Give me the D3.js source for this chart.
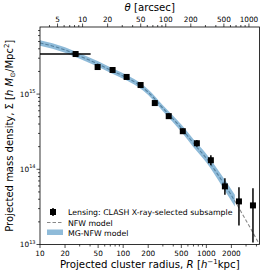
<!doctype html>
<html>
<head>
<script src="https://d3js.org/d3.v7.min.js"></script>
<style>
body { margin: 0; background: #fff; }
text { font-family: "DejaVu Sans", sans-serif; fill: #000; }
</style>
</head>
<body>
<script>
var width = 266, height = 275;

// lensing points (R in h^-1 kpc, Sigma in h Msun / Mpc^2)
var ptR     = [26.8, 49.3, 74.6, 110, 162, 240, 353, 521, 769, 1133, 1671, 2466, 3634];
var ptSigma = [3.41e15, 2.29e15, 2.09e15, 1.69e15, 1.32e15, 7.6e14, 5.09e14, 3.21e14, 2.22e14, 1.32e14, 5.93e13, 3.74e13, 3.31e13];
var ptLo    = [3.2e15, 2.15e15, 1.95e15, 1.58e15, 1.22e15, 7.0e14, 4.7e14, 2.95e14, 2.0e14, 1.13e14, 4.6e13, 1.79e13, 1.06e13];
var ptHi    = [3.6e15, 2.45e15, 2.23e15, 1.80e15, 1.42e15, 8.2e14, 5.5e14, 3.5e14, 2.45e14, 1.54e14, 7.6e13, 5.75e13, 5.6e13];
var ptRlo   = [10, null, null, null, null, null, null, null, null, null, null, null, null];
var ptRhi   = [40.6, null, null, null, null, null, null, null, null, null, null, null, null];

// NFW model curve
var nfwR     = [10, 20, 30, 50, 70, 100, 150, 200, 300, 500, 700, 1000, 1500, 2000, 3000, 4355];
var nfwSigma = [4.79e15, 3.86e15, 3.21e15, 2.51e15, 2.09e15, 1.74e15, 1.36e15, 1.06e15, 6.5e14, 3.52e14, 2.22e14, 1.40e14, 7.36e13, 4.5e13, 2.09e13, 1.0e13];

// MG-NFW band
var mgR    = [10, 20, 30, 50, 70, 100, 150, 200, 300, 500, 700, 1000, 1500, 2200];
var mgLow  = [4.4e15, 3.55e15, 2.95e15, 2.31e15, 1.92e15, 1.6e15, 1.25e15, 0.97e15, 5.9e14, 3.15e14, 1.97e14, 1.23e14, 6.3e13, 3.2e13];
var mgHigh = [5.2e15, 4.2e15, 3.49e15, 2.73e15, 2.27e15, 1.89e15, 1.48e15, 1.15e15, 7.1e14, 3.93e14, 2.5e14, 1.6e14, 8.6e13, 4.6e13];

var xTicks = [10, 20, 50, 100, 200, 500, 1000, 2000];
var thetaTicks = [5, 10, 20, 50, 100, 200, 500, 1000];
var kpcPerArcsec = 3.25;
var yTicks = [1e13, 1e14, 1e15];

var mLeft = 40, mRight = 259.5, mTop = 27, mBottom = 244.5;

var x = d3.scaleLog().domain([10, 4355]).range([mLeft, mRight]);
var y = d3.scaleLog().domain([1e13, 7.8e15]).range([mBottom, mTop]);
var xt = d3.scaleLog().domain([10 / kpcPerArcsec, 4355 / kpcPerArcsec]).range([mLeft, mRight]);

var svg = d3.select("body").append("svg")
    .attr("width", width)
    .attr("height", height);

svg.append("defs").append("clipPath").attr("id", "clip")
  .append("rect").attr("x", mLeft).attr("y", mTop)
  .attr("width", mRight - mLeft).attr("height", mBottom - mTop);

var plot = svg.append("g").attr("clip-path", "url(#clip)");

// NFW dashed
var nfwData = nfwR.map(function (r, i) { return [r, nfwSigma[i]]; });
plot.append("path")
    .datum(nfwData)
    .attr("d", d3.line().curve(d3.curveMonotoneX)
        .x(function (d) { return x(d[0]); })
        .y(function (d) { return y(d[1]); }))
    .attr("fill", "none")
    .attr("stroke", "#888")
    .attr("stroke-width", 1.1)
    .attr("stroke-dasharray", "3.5,2");

// MG-NFW band
var mgData = mgR.map(function (r, i) { return [r, mgLow[i], mgHigh[i]]; });
plot.append("path")
    .datum(mgData)
    .attr("d", d3.area().curve(d3.curveMonotoneX)
        .x(function (d) { return x(d[0]); })
        .y0(function (d) { return y(d[1]); })
        .y1(function (d) { return y(d[2]); }))
    .attr("fill", "#1f77b4")
    .attr("fill-opacity", 0.5);

// error bars + markers
var pts = ptR.map(function (r, i) {
    return {r: r, s: ptSigma[i], lo: ptLo[i], hi: ptHi[i], rlo: ptRlo[i], rhi: ptRhi[i]};
});
var pg = plot.append("g");
pg.selectAll("line.ey").data(pts).enter().append("line")
    .attr("x1", function (d) { return x(d.r); })
    .attr("x2", function (d) { return x(d.r); })
    .attr("y1", function (d) { return y(d.lo); })
    .attr("y2", function (d) { return y(d.hi); })
    .attr("stroke", "#000").attr("stroke-width", 1.5);
pg.selectAll("line.ex").data(pts.filter(function (d) { return d.rlo; })).enter().append("line")
    .attr("x1", function (d) { return x(d.rlo); })
    .attr("x2", function (d) { return x(d.rhi); })
    .attr("y1", function (d) { return y(d.s); })
    .attr("y2", function (d) { return y(d.s); })
    .attr("stroke", "#000").attr("stroke-width", 1.5);
pg.selectAll("rect").data(pts).enter().append("rect")
    .attr("x", function (d) { return x(d.r) - 3; })
    .attr("y", function (d) { return y(d.s) - 3; })
    .attr("width", 6).attr("height", 6)
    .attr("fill", "#000");

// frame
svg.append("rect")
    .attr("x", mLeft).attr("y", mTop)
    .attr("width", mRight - mLeft).attr("height", mBottom - mTop)
    .attr("fill", "none").attr("stroke", "#000").attr("stroke-width", 0.8);

function minorTicks(scale) {
    var d = scale.domain(), out = [];
    for (var e = Math.floor(Math.log10(d[0])); e <= Math.ceil(Math.log10(d[1])); e++) {
        for (var m = 1; m < 10; m++) {
            var v = m * Math.pow(10, e);
            if (v >= d[0] * 0.999 && v <= d[1] * 1.001) out.push(v);
        }
    }
    return out;
}

// bottom axis
var gx = svg.append("g");
gx.selectAll("line").data(minorTicks(x)).enter().append("line")
    .attr("x1", function (d) { return x(d); }).attr("x2", function (d) { return x(d); })
    .attr("y1", mBottom).attr("y2", function (d) { return xTicks.indexOf(d) >= 0 ? mBottom + 3.5 : mBottom + 2; })
    .attr("stroke", "#000").attr("stroke-width", 0.7);
gx.selectAll("text").data(xTicks).enter().append("text")
    .attr("x", function (d) { return x(d); })
    .attr("y", mBottom + 11)
    .attr("text-anchor", "middle")
    .attr("font-size", "7.3px")
    .text(function (d) { return d; });

// top axis (theta)
var gt = svg.append("g");
gt.selectAll("line").data(minorTicks(xt)).enter().append("line")
    .attr("x1", function (d) { return xt(d); }).attr("x2", function (d) { return xt(d); })
    .attr("y1", mTop).attr("y2", function (d) { return thetaTicks.indexOf(d) >= 0 ? mTop - 3.5 : mTop - 2; })
    .attr("stroke", "#000").attr("stroke-width", 0.7);
gt.selectAll("text").data(thetaTicks).enter().append("text")
    .attr("x", function (d) { return xt(d); })
    .attr("y", mTop - 5.5)
    .attr("text-anchor", "middle")
    .attr("font-size", "7.3px")
    .text(function (d) { return d; });

// left axis
var gy = svg.append("g");
gy.selectAll("line").data(minorTicks(y)).enter().append("line")
    .attr("y1", function (d) { return y(d); }).attr("y2", function (d) { return y(d); })
    .attr("x1", mLeft).attr("x2", function (d) { return yTicks.indexOf(d) >= 0 ? mLeft - 3.5 : mLeft - 2; })
    .attr("stroke", "#000").attr("stroke-width", 0.7);
var yl = gy.selectAll("text").data(yTicks).enter().append("text")
    .attr("x", mLeft - 4.5)
    .attr("y", function (d) { return y(d) + 2.5; })
    .attr("text-anchor", "end")
    .attr("font-size", "7.3px");
yl.append("tspan").text("10");
yl.append("tspan").attr("font-size", "5px").attr("dy", -3.5)
    .text(function (d) { return Math.round(Math.log10(d)); });

// axis labels
var xlab = svg.append("text")
    .attr("x", (mLeft + mRight) / 2).attr("y", 268)
    .attr("text-anchor", "middle").attr("font-size", "10.2px");
xlab.append("tspan").text("Projected cluster radius, ");
xlab.append("tspan").attr("font-style", "italic").text("R");
xlab.append("tspan").text(" [");
xlab.append("tspan").attr("font-style", "italic").text("h");
xlab.append("tspan").attr("font-size", "7px").attr("dy", -4).text("\u22121");
xlab.append("tspan").attr("dy", 4).text("kpc]");

var tlab = svg.append("text")
    .attr("x", (mLeft + mRight) / 2).attr("y", 11)
    .attr("text-anchor", "middle").attr("font-size", "10.2px");
tlab.append("tspan").attr("font-style", "italic").text("\u03b8");
tlab.append("tspan").text(" [arcsec]");

var ylab = svg.append("text")
    .attr("transform", "translate(13," + ((mTop + mBottom) / 2) + ") rotate(-90)")
    .attr("text-anchor", "middle").attr("font-size", "10px");
ylab.append("tspan").text("Projected mass density, \u03a3 [");
ylab.append("tspan").attr("font-style", "italic").text("h M");
ylab.append("tspan").attr("font-size", "7px").attr("dy", 2).text("\u2299");
ylab.append("tspan").attr("dy", -2).text("/Mpc");
ylab.append("tspan").attr("font-size", "7px").attr("dy", -4).text("2");
ylab.append("tspan").attr("dy", 4).text("]");

// legend
var lg = svg.append("g").attr("font-size", "7.8px");
lg.append("line").attr("x1", 53).attr("x2", 53).attr("y1", 208).attr("y2", 216)
    .attr("stroke", "#000").attr("stroke-width", 1.5);
lg.append("rect").attr("x", 50).attr("y", 209).attr("width", 6).attr("height", 6).attr("fill", "#000");
lg.append("text").attr("x", 68).attr("y", 215).text("Lensing: CLASH X-ray-selected subsample");
lg.append("line").attr("x1", 47).attr("x2", 63).attr("y1", 222.5).attr("y2", 222.5)
    .attr("stroke", "#888").attr("stroke-width", 1.1).attr("stroke-dasharray", "3.5,2");
lg.append("text").attr("x", 68).attr("y", 225.5).text("NFW model");
lg.append("rect").attr("x", 47).attr("y", 229.5).attr("width", 16).attr("height", 5.5)
    .attr("fill", "#1f77b4").attr("fill-opacity", 0.5);
lg.append("text").attr("x", 68).attr("y", 235.5).text("MG-NFW model");
</script>
</body>
</html>
